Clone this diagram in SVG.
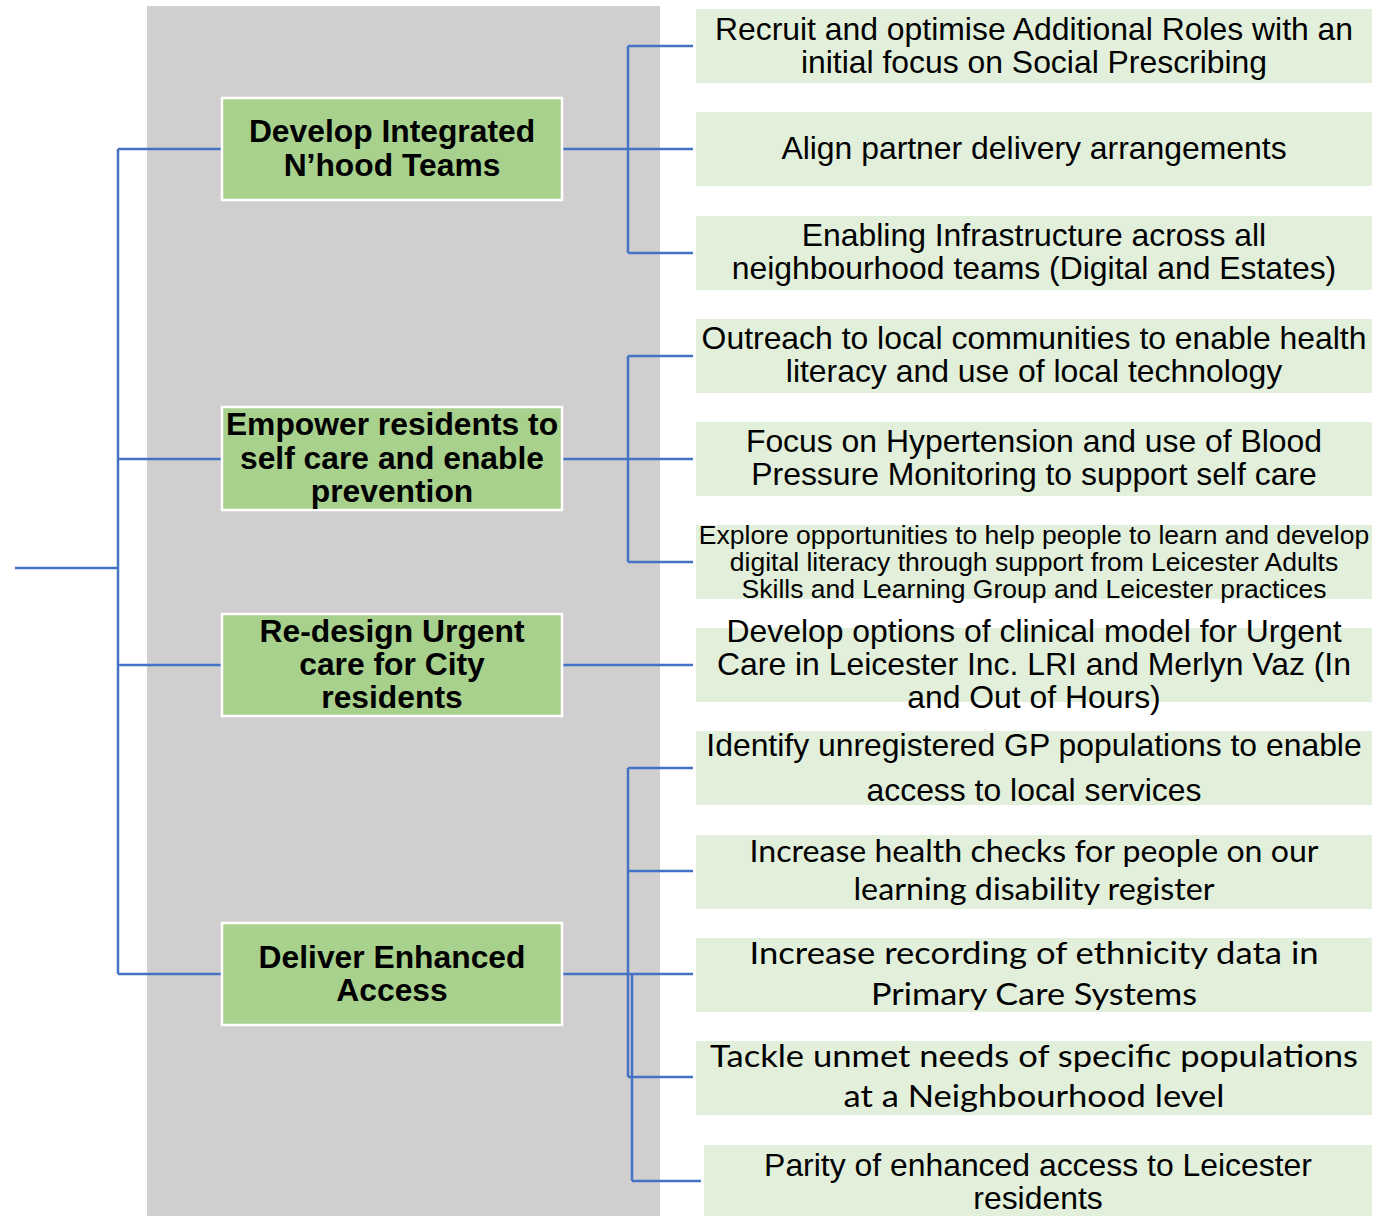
<svg xmlns="http://www.w3.org/2000/svg" width="1378" height="1216" viewBox="0 0 1378 1216">
<style>
.node rect{fill:#A9D18E;stroke:#FFFFFF;stroke-width:2.5}
.node text{font-family:"Liberation Sans",Arial,sans-serif;font-weight:bold;font-size:31.8px;fill:#000;text-anchor:middle}
.leaf rect{fill:#E2EFDA}
.leaf text{font-family:"Liberation Sans",Arial,sans-serif;font-size:31.9px;fill:#000;text-anchor:middle}
.leaf text.small{font-size:26.5px}
.leaf text.cal{font-family:Lato,"Open Sans",sans-serif;font-size:30px}
.conn path{fill:none;stroke:#4472C4;stroke-width:2.5}
</style>
<rect x="0" y="0" width="1378" height="1216" fill="#FFFFFF"/>
<rect id="panel" x="147" y="6" width="513" height="1210" fill="#D0CECE"/>

<g class="conn" id="connectors">
<path d="M15,568 H118 M118,149 V974 M118,149 H221 M118,459 H221 M118,665 H221 M118,974 H221"/>
<path d="M563,149 H693 M628,46 V253 M628,46 H693 M628,253 H693"/>
<path d="M563,459 H693 M628,356 V562 M628,356 H693 M628,562 H693"/>
<path d="M563,665 H693"/>
<path d="M563,974 H693 M628,768 V1077 M628,768 H693 M628,871 H693 M628,1077 H693 M632,974 V1181 M632,1181 H701"/>
</g>

<g class="node" id="n1"><rect x="222" y="98" width="340" height="102"/>
<text x="392" y="142">Develop Integrated</text><text x="392" y="176">N’hood Teams</text></g>
<g class="node" id="n2"><rect x="222" y="407" width="340" height="103"/>
<text x="392" y="435">Empower residents to</text><text x="392" y="469">self care and enable</text><text x="392" y="502">prevention</text></g>
<g class="node" id="n3"><rect x="222" y="614" width="340" height="102"/>
<text x="392" y="642">Re-design Urgent</text><text x="392" y="675">care for City</text><text x="392" y="708">residents</text></g>
<g class="node" id="n4"><rect x="222" y="923" width="340" height="102"/>
<text x="392" y="968">Deliver Enhanced</text><text x="392" y="1001">Access</text></g>

<g class="leaf" id="l1"><rect x="696" y="9" width="676" height="74"/>
<text x="1034" y="40">Recruit and optimise Additional Roles with an</text><text x="1034" y="73">initial focus on Social Prescribing</text></g>
<g class="leaf" id="l2"><rect x="696" y="112" width="676" height="74"/>
<text x="1034" y="159">Align partner delivery arrangements</text></g>
<g class="leaf" id="l3"><rect x="696" y="216" width="676" height="74"/>
<text x="1034" y="246">Enabling Infrastructure across all</text><text x="1034" y="279">neighbourhood teams (Digital and Estates)</text></g>
<g class="leaf" id="l4"><rect x="696" y="319" width="676" height="74"/>
<text x="1034" y="349">Outreach to local communities to enable health</text><text x="1034" y="382">literacy and use of local technology</text></g>
<g class="leaf" id="l5"><rect x="696" y="422" width="676" height="74"/>
<text x="1034" y="452">Focus on Hypertension and use of Blood</text><text x="1034" y="485">Pressure Monitoring to support self care</text></g>
<g class="leaf" id="l6"><rect x="696" y="525" width="676" height="74"/>
<text class="small" x="1034" y="544">Explore opportunities to help people to learn and develop</text><text class="small" x="1034" y="571">digital literacy through support from Leicester Adults</text><text class="small" x="1034" y="598">Skills and Learning Group and Leicester practices</text></g>
<g class="leaf" id="l7"><rect x="696" y="628" width="676" height="74"/>
<text x="1034" y="642">Develop options of clinical model for Urgent</text><text x="1034" y="675">Care in Leicester Inc. LRI and Merlyn Vaz (In</text><text x="1034" y="708">and Out of Hours)</text></g>
<g class="leaf" id="l8"><rect x="696" y="731" width="676" height="74"/>
<text x="1034" y="756">Identify unregistered GP populations to enable</text><text x="1034" y="801">access to local services</text></g>
<g class="leaf" id="l9"><rect x="696" y="835" width="676" height="74"/>
<text class="cal" x="1034" y="862" textLength="569" lengthAdjust="spacingAndGlyphs">Increase health checks for people on our</text><text class="cal" x="1034" y="900" textLength="361" lengthAdjust="spacingAndGlyphs">learning disability register</text></g>
<g class="leaf" id="l10"><rect x="696" y="938" width="676" height="74"/>
<text class="cal" x="1034" y="964" textLength="569" lengthAdjust="spacingAndGlyphs">Increase recording of ethnicity data in</text><text class="cal" x="1034" y="1005" textLength="326" lengthAdjust="spacingAndGlyphs">Primary Care Systems</text></g>
<g class="leaf" id="l11"><rect x="696" y="1041" width="676" height="74"/>
<text class="cal" x="1034" y="1067" textLength="648" lengthAdjust="spacingAndGlyphs">Tackle unmet needs of specific populations</text><text class="cal" x="1034" y="1107" textLength="381" lengthAdjust="spacingAndGlyphs">at a Neighbourhood level</text></g>
<g class="leaf" id="l12"><rect x="704" y="1145" width="668" height="74"/>
<text x="1038" y="1176">Parity of enhanced access to Leicester</text><text x="1038" y="1209">residents</text></g>
</svg>
